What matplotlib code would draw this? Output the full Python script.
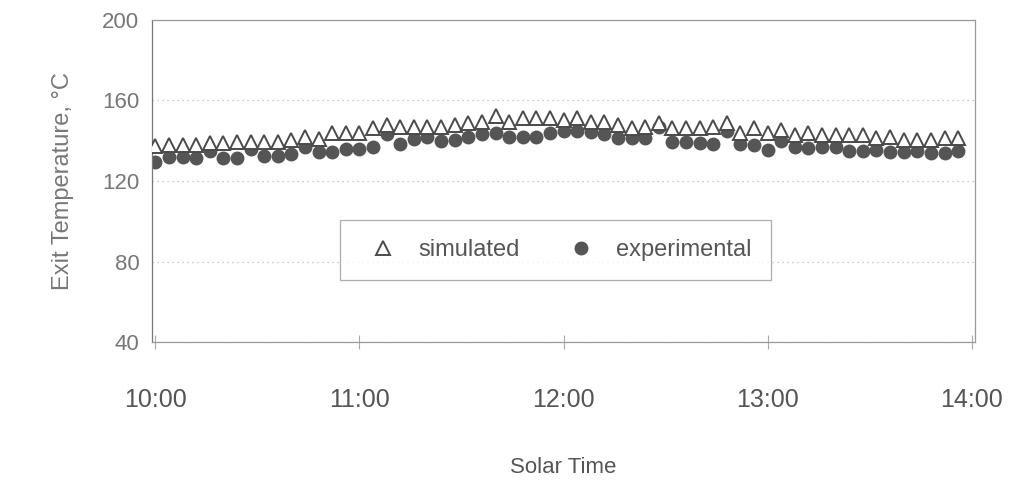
#!/usr/bin/env python3
"""Exit temperature vs solar time: simulated and experimental."""

import matplotlib

matplotlib.use("Agg")
import matplotlib.pyplot as plt

# minutes after 10:00, one sample every 4 minutes
minutes = [
    0, 4, 8, 12, 16, 20, 24, 28, 32, 36,
    40, 44, 48, 52, 56, 60, 64, 68, 72, 76,
    80, 84, 88, 92, 96, 100, 104, 108, 112, 116,
    120, 124, 128, 132, 136, 140, 144, 148, 152, 156,
    160, 164, 168, 172, 176, 180, 184, 188, 192, 196,
    200, 204, 208, 212, 216, 220, 224, 228, 232, 236,
]

simulated = [
    137.3, 137.8, 137.8, 137.8, 138.7, 138.7, 139.5, 139.5, 139.5, 139.5,
    140.3, 141.7, 140.8, 143.7, 143.7, 143.7, 146.2, 147.8, 147.0, 147.0,
    147.0, 147.0, 147.8, 148.7, 149.5, 152.0, 149.5, 151.2, 151.2, 151.2,
    150.3, 151.2, 149.5, 149.5, 147.8, 146.2, 147.0, 148.7, 146.2, 146.2,
    146.2, 147.0, 148.7, 143.7, 146.2, 143.7, 145.3, 142.8, 143.7, 142.8,
    142.8, 142.8, 142.8, 141.2, 142.0, 140.3, 140.3, 140.3, 141.2, 141.2,
]

experimental = [
    129.2, 131.7, 131.7, 131.3, 135.0, 131.3, 131.3, 135.8, 132.5, 132.5,
    133.3, 136.7, 134.2, 134.2, 135.8, 135.8, 136.7, 143.3, 138.3, 140.8,
    142.0, 140.0, 140.3, 141.7, 143.3, 143.8, 141.7, 141.7, 141.7, 143.8,
    145.0, 145.0, 144.2, 143.3, 141.3, 141.3, 141.3, 146.7, 139.2, 139.2,
    138.7, 138.3, 144.7, 138.3, 138.0, 135.3, 139.7, 136.7, 136.3, 136.7,
    136.7, 135.0, 135.0, 135.3, 134.2, 134.2, 135.0, 133.7, 133.7, 134.7,
]

hour_ticks = [0, 60, 120, 180, 240]
hour_labels = ["10:00", "11:00", "12:00", "13:00", "14:00"]
temp_ticks = [40, 80, 120, 160, 200]

GREY_TEXT = "#555555"
GREY_MARK = "#4a4a4a"

plt.rcParams["font.family"] = ["Liberation Sans", "DejaVu Sans"]

fig = plt.figure(figsize=(10.2, 4.82), dpi=100)
ax = fig.add_axes([0.149, 0.290, 0.807, 0.669])

ax.plot(
    minutes, simulated, linestyle="none", marker="^", markersize=10,
    markerfacecolor="white", markeredgecolor=GREY_MARK, markeredgewidth=1.4,
    label="simulated", zorder=3,
)
ax.plot(
    minutes, experimental, linestyle="none", marker="o", markersize=9,
    markerfacecolor="#555555", markeredgecolor="#555555",
    label="experimental", zorder=2,
)

ax.set_xlim(-1, 241)
ax.set_ylim(40, 200)
ax.set_xticks(hour_ticks)
ax.set_xticklabels(hour_labels)
ax.set_yticks(temp_ticks)

ax.tick_params(axis="x", direction="inout", length=10, pad=28,
               labelsize=18, colors="#aaaaaa", labelcolor=GREY_TEXT)
ax.tick_params(axis="y", length=0, pad=9, labelsize=16, labelcolor="#777777")

ax.grid(axis="y", linestyle=(0, (1, 3)), color="#bbbbbb", linewidth=0.9)
for name, spine in ax.spines.items():
    spine.set_color("#999999")
    spine.set_linewidth(0.9)
ax.spines["left"].set_color("#777777")

ax.set_xlabel("Solar Time", fontsize=16, color=GREY_TEXT)
ax.xaxis.set_label_coords(0.5, -0.355)
ax.set_ylabel("Exit Temperature, °C", fontsize=17, color="#777777", labelpad=20)

leg = ax.legend(
    loc="center", bbox_to_anchor=(0.49, 0.285), ncol=2, fontsize=17,
    frameon=True, fancybox=False, edgecolor="#999999", borderpad=0.8,
    columnspacing=1.6, handletextpad=0.5, markerscale=1.0,
)
for text in leg.get_texts():
    text.set_color(GREY_TEXT)
leg.get_frame().set_linewidth(0.9)

fig.savefig("out.png", dpi=100)
